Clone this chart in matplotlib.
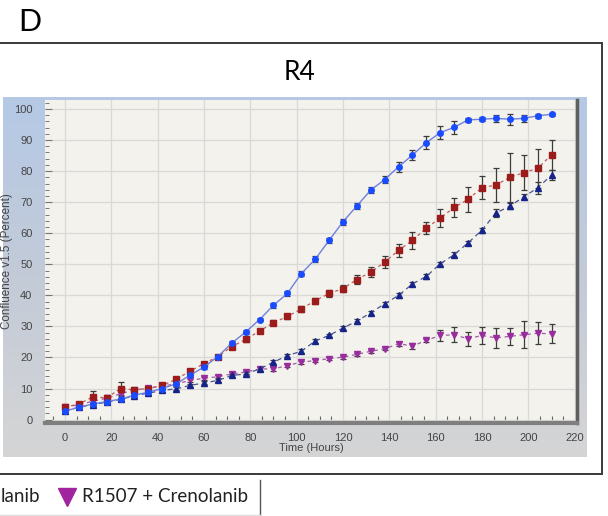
import numpy as np
import matplotlib
matplotlib.use("Agg")
import matplotlib.pyplot as plt
from matplotlib.patches import Rectangle
from matplotlib.lines import Line2D
from matplotlib.colors import LinearSegmentedColormap
from matplotlib.ticker import MultipleLocator

# time points (hours) and confluence values per condition
hours = np.arange(0, 211, 6)

ctrl = [2.7, 4.0, 5.0, 5.8, 6.6, 7.9, 8.8, 10.0, 11.5, 14.3,
        16.9, 20.3, 24.6, 28.2, 32.2, 36.8, 40.6, 47.0, 51.6, 57.7,
        63.7, 68.8, 73.9, 77.3, 81.4, 85.2, 89.2, 92.4, 94.1, 96.5,
        96.7, 97.0, 96.7, 97.0, 97.8, 98.3]
ctrl_err = [0.5, 0.5, 0.6, 0.5, 0.5, 0.5, 0.5, 0.6, 0.6, 0.7,
            0.6, 0.6, 0.7, 0.7, 0.6, 0.8, 0.8, 0.9, 1.0, 0.9,
            0.9, 1.0, 1.0, 1.2, 1.6, 1.7, 2.1, 2.0, 2.1, 0.7,
            0.7, 1.1, 1.7, 1.1, 0.6, 0.4]

r1507 = [4.0, 5.0, 7.3, 7.0, 10.0, 9.6, 10.0, 11.0, 13.0, 15.6,
         18.0, 20.3, 23.5, 25.8, 28.5, 31.2, 33.2, 35.6, 38.3, 40.6,
         42.2, 45.1, 47.5, 50.7, 54.5, 57.7, 61.7, 64.9, 68.3, 70.9,
         74.7, 75.5, 78.0, 79.5, 80.9, 85.2]
r1507_err = [0.6, 0.6, 1.8, 0.8, 2.0, 0.7, 0.6, 0.7, 0.8, 0.8,
             0.6, 0.6, 0.6, 0.7, 0.7, 0.8, 0.8, 0.9, 1.0, 1.1,
             1.2, 1.4, 1.5, 2.0, 2.1, 2.7, 1.9, 2.8, 3.0, 4.1,
             3.8, 5.4, 7.8, 5.6, 6.2, 4.7]

creno = [2.7, 4.0, 4.8, 5.6, 6.5, 7.7, 8.5, 9.4, 9.9, 11.0,
         11.8, 12.6, 14.2, 14.7, 16.3, 18.5, 20.6, 22.0, 25.3, 27.1,
         29.5, 31.7, 34.4, 37.3, 40.0, 43.7, 46.1, 50.2, 53.1, 56.9,
         61.0, 66.5, 68.7, 71.7, 74.6, 78.7]
creno_err = [0.4, 0.4, 0.5, 0.4, 0.4, 0.5, 0.5, 0.5, 0.5, 0.5,
             0.5, 0.5, 0.5, 0.5, 0.5, 0.6, 0.6, 0.6, 0.6, 0.6,
             0.6, 0.6, 0.6, 0.6, 0.7, 0.7, 0.8, 0.7, 0.7, 0.7,
             0.8, 1.2, 1.0, 0.8, 1.9, 1.7]

combo = [4.0, 4.8, 5.9, 6.9, 8.3, 9.6, 10.1, 10.8, 11.5, 12.6,
         13.3, 13.8, 14.7, 15.3, 16.3, 16.3, 17.4, 18.5, 19.0, 19.6,
         20.1, 21.0, 22.0, 22.8, 24.4, 23.7, 25.5, 27.1, 27.3, 26.0,
         27.1, 26.3, 26.8, 27.3, 27.8, 27.6]
combo_err = [0.5, 0.5, 0.6, 0.5, 0.6, 0.5, 0.5, 0.5, 0.5, 0.5,
             0.5, 0.5, 0.5, 0.5, 0.5, 0.5, 0.5, 0.5, 0.5, 0.5,
             0.5, 0.5, 0.5, 0.5, 0.6, 0.9, 0.6, 1.8, 2.4, 2.2,
             2.8, 3.1, 2.8, 4.3, 3.5, 3.1]

W, H = 608, 516
fig = plt.figure(figsize=(W / 100, H / 100), dpi=100)
fig.patch.set_facecolor("white")

# panel background: blue fading to grey
bg = fig.add_axes([3 / W, 1 - 457 / H, 584 / W, 360 / H], zorder=0)
cmap = LinearSegmentedColormap.from_list("panel", ["#b5c9e6", "#c3cbd8", "#d5d5d5"])
bg.imshow(np.linspace(0, 1, 256).reshape(-1, 1), aspect="auto", cmap=cmap,
          extent=[0, 1, 0, 1], origin="upper")
bg.axis("off")

ax = fig.add_axes([45 / W, 1 - 423 / H, 532 / W, 323 / H], zorder=1)
ax.set_facecolor("#f3f2ed")
ax.set_xlim(-8.6, 221)
ax.set_ylim(-1.1, 102.9)

ax.xaxis.set_major_locator(MultipleLocator(20))
ax.xaxis.set_minor_locator(MultipleLocator(5))
ax.yaxis.set_major_locator(MultipleLocator(10))
ax.yaxis.set_minor_locator(MultipleLocator(2))
ax.grid(True, which="major", color="#d9d9d6", linewidth=0.9)
ax.set_axisbelow(True)

ax.tick_params(axis="x", which="major", length=0, pad=7, labelsize=8, labelcolor="#444444")
ax.tick_params(axis="x", which="minor", direction="in", length=5, width=0.8, color="#666666")
ax.tick_params(axis="y", which="major", direction="in", length=5, width=0.8, color="#777777",
               pad=9, labelsize=8, labelcolor="#444444")
ax.tick_params(axis="y", which="minor", direction="in", length=3, width=0.7, color="#777777")
ax.set_xticks([0, 20, 40, 60, 80, 100, 120, 140, 160, 180, 200, 220])
for lab in ax.get_xticklabels() + ax.get_yticklabels():
    lab.set_family("Liberation Sans")

for side in ("top", "left"):
    ax.spines[side].set_visible(False)
ax.spines["bottom"].set_color("#7f7f7f")
ax.spines["bottom"].set_linewidth(3)
ax.spines["right"].set_color("#5f5f5f")
ax.spines["right"].set_linewidth(2.5)

ax.set_xlabel("Time (Hours)", fontsize=8, color="#444444", family="Liberation Sans", labelpad=0)
ax.set_ylabel("Confluence v1.5 (Percent)", fontsize=8.4, color="#444444",
              family="Liberation Sans", labelpad=1)

err_kw = dict(ecolor="#3c3c3c", elinewidth=0.9, capsize=2.4, capthick=0.9)

ax.errorbar(hours, combo, yerr=combo_err, color="#a15aa6", ls=(0, (3, 3)), lw=0.9,
            marker="v", ms=4.5, mfc="#9a2d9e", mec="#9a2d9e", **err_kw)
ax.errorbar(hours, creno, yerr=creno_err, color="#4a5590", ls=(0, (4, 3)), lw=0.9,
            marker="^", ms=4.5, mfc="#16248a", mec="#16248a", **err_kw)
ax.errorbar(hours, r1507, yerr=r1507_err, color="#c25b5b", ls=(0, (2.5, 2.5)), lw=0.9,
            marker="s", ms=4, mfc="#9c1c1c", mec="#9c1c1c", **err_kw)
ax.errorbar(hours, ctrl, yerr=ctrl_err, color="#6f80dc", ls="-", lw=1.0,
            marker="o", ms=4, mfc="#1a4cff", mec="#1a4cff", **err_kw)

# outer frame, panel letter and title
fig.add_artist(Rectangle((-5 / W, 1 - 474 / H), 607 / W, 431 / H, transform=fig.transFigure,
                         fill=False, edgecolor="#3a3a3a", linewidth=1.4))
fig.text(18 / W, 1 - 22 / H, "D", fontsize=22, family="Lato", va="center", ha="left")
fig.text(300 / W, 1 - 72 / H, "R4", fontsize=19, family="Lato", va="center", ha="center")

# legend strip under the frame
fig.text(1 / W, 1 - 497 / H, "lanib", fontsize=13.5, family="Lato", va="center", ha="left",
         color="#222222")
fig.add_artist(Line2D([67 / W], [1 - 497 / H], marker="v", ms=13, color="#a0249e",
                      transform=fig.transFigure, ls="none"))
fig.text(82 / W, 1 - 497 / H, "R1507 + Crenolanib", fontsize=13.5, family="Lato", va="center",
         ha="left", color="#222222")
fig.add_artist(Line2D([260 / W, 260 / W], [1 - 480 / H, 0], color="#555555", lw=1,
                      transform=fig.transFigure))
fig.add_artist(Line2D([0, 260 / W], [1 - 515 / H, 1 - 515 / H], color="#dddddd", lw=1,
                      transform=fig.transFigure))

fig.savefig("out.png", dpi=100)
